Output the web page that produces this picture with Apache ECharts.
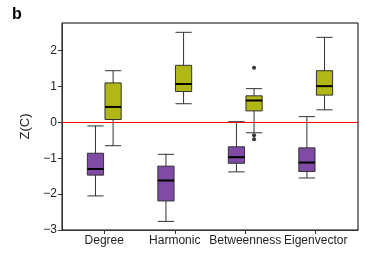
<!DOCTYPE html>
<html>
<head>
<meta charset="utf-8">
<script src="https://cdn.jsdelivr.net/npm/echarts@6/dist/echarts.min.js"></script>
<style>html,body{margin:0;padding:0;background:#fff}#c{width:366px;height:276px}</style>
</head>
<body>
<div id="c"></div>
<script>
const categories = ['Degree', 'Harmonic', 'Betweenness', 'Eigenvector'];
// [min, Q1, median, Q3, max]
const purpleBoxes = [
  [-2.05, -1.47, -1.30, -0.86, -0.10],
  [-2.76, -2.19, -1.62, -1.22, -0.89],
  [-1.38, -1.14, -0.97, -0.68, 0.02],
  [-1.55, -1.37, -1.12, -0.71, 0.16]
];
const yellowBoxes = [
  [-0.65, 0.08, 0.43, 1.10, 1.44],
  [0.52, 0.86, 1.07, 1.59, 2.51],
  [-0.29, 0.32, 0.61, 0.74, 0.94],
  [0.35, 0.76, 1.01, 1.44, 2.37]
];
// outliers: [category index, value]
const yellowOutliers = [[2, 1.52], [2, -0.36], [2, -0.47]];
const yTicks = [-3, -2, -1, 0, 1, 2];

const purple = '#7f4ba4';
const yellow = '#b1b714';
const dodge = 0.125;
const boxW = 0.23;

function toData(boxes, off) {
  return boxes.map((b, i) => [i + 1 + off].concat(b));
}

function renderBox(params, api) {
  const x = api.value(0);
  const lo = api.coord([x, api.value(1)]);
  const q1 = api.coord([x, api.value(2)]);
  const md = api.coord([x, api.value(3)]);
  const q3 = api.coord([x, api.value(4)]);
  const hi = api.coord([x, api.value(5)]);
  const w = api.size([boxW, 0])[0];
  const cx = lo[0];
  const fill = api.visual('color');
  const ls = { stroke: '#333', lineWidth: 1 };
  return {
    type: 'group',
    children: [
      { type: 'line', shape: { x1: cx, y1: hi[1], x2: cx, y2: lo[1] }, style: ls },
      { type: 'line', shape: { x1: cx - w / 2, y1: hi[1], x2: cx + w / 2, y2: hi[1] }, style: ls },
      { type: 'line', shape: { x1: cx - w / 2, y1: lo[1], x2: cx + w / 2, y2: lo[1] }, style: ls },
      { type: 'rect', shape: { x: cx - w / 2, y: q3[1], width: w, height: q1[1] - q3[1] },
        style: { fill: fill, stroke: '#333', lineWidth: 1 } },
      { type: 'line', shape: { x1: cx - w / 2, y1: md[1], x2: cx + w / 2, y2: md[1] },
        style: { stroke: '#000', lineWidth: 2 } }
    ]
  };
}

const font = '"Liberation Sans", Arial, sans-serif';
const chart = echarts.init(document.getElementById('c'), null, { renderer: 'canvas' });
chart.setOption({
  animation: false,
  backgroundColor: '#fff',
  textStyle: { fontFamily: font },
  title: { text: 'b', left: 7, top: 2, textStyle: { fontFamily: font, fontWeight: 'bold', fontSize: 16, color: '#000' } },
  grid: { left: 62, right: 8, top: 23, bottom: 46, show: true, borderColor: '#000', borderWidth: 1, backgroundColor: 'transparent' },
  xAxis: {
    type: 'value', min: 0.4, max: 4.6,
    splitLine: { show: false },
    axisLine: { show: true, onZero: false, lineStyle: { color: '#333', width: 1 } },
    axisTick: { show: true, length: 4, customValues: [1, 2, 3, 4], lineStyle: { color: '#333' } },
    axisLabel: { customValues: [1, 2, 3, 4], margin: 5, fontSize: 12, color: '#222', fontFamily: font,
      formatter: v => categories[Math.round(v) - 1] || '' }
  },
  yAxis: {
    type: 'value', min: -3, max: 2.77,
    name: 'Z(C)', nameLocation: 'middle', nameRotate: 90, nameGap: 30,
    nameTextStyle: { fontSize: 13, color: '#222', fontFamily: font },
    splitLine: { show: false },
    axisLine: { show: true, onZero: false, lineStyle: { color: '#333', width: 1 } },
    axisTick: { show: true, length: 4, customValues: yTicks, lineStyle: { color: '#333' } },
    axisLabel: { customValues: yTicks, margin: 5, fontSize: 12, color: '#222', fontFamily: font,
      formatter: v => String(v).replace('-', '\u2212') }
  },
  series: [
    {
      type: 'custom', name: 'purple', renderItem: renderBox, itemStyle: { color: purple },
      encode: { x: 0, y: [1, 2, 3, 4, 5] },
      data: toData(purpleBoxes, -dodge),
      markLine: {
        silent: true, symbol: 'none', label: { show: false },
        lineStyle: { color: '#ff0000', width: 1, type: 'solid' },
        data: [{ yAxis: 0 }]
      },
      z: 3
    },
    {
      type: 'custom', name: 'yellow', renderItem: renderBox, itemStyle: { color: yellow },
      encode: { x: 0, y: [1, 2, 3, 4, 5] },
      data: toData(yellowBoxes, dodge),
      z: 3
    },
    {
      type: 'scatter', symbol: 'circle', symbolSize: 4, itemStyle: { color: '#000' },
      data: yellowOutliers.map(o => [o[0] + 1 + dodge, o[1]]),
      z: 4
    }
  ]
});
</script>
</body>
</html>
